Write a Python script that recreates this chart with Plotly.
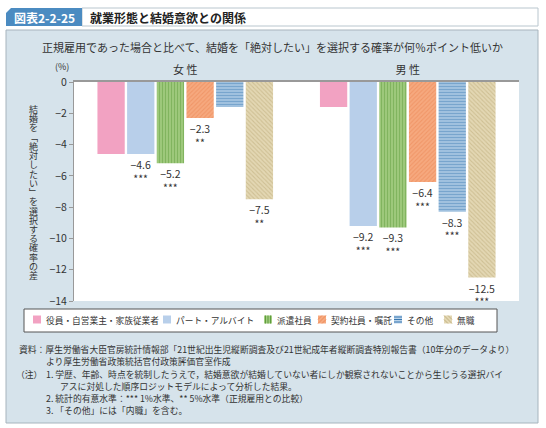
import plotly.graph_objects as go

# ---------------- data ----------------
categories = ["女 性", "男 性"]
series_names = ["役員・自営業主・家族従業者", "パート・アルバイト", "派遣社員",
                "契約社員・嘱託", "その他", "無職"]
women = [-4.6, -4.6, -5.2, -2.3, -1.6, -7.5]
men = [-1.6, -9.2, -9.3, -6.4, -8.3, -12.5]
sig_women = ["", "***", "***", "**", "", "**"]
sig_men = ["", "***", "***", "***", "***", "***"]
y_ticks = [0, -2, -4, -6, -8, -10, -12, -14]

title_tag = "図表2-2-25"
title_text = "就業形態と結婚意欲との関係"
subtitle = "正規雇用であった場合と比べて、結婚を「絶対したい」を選択する確率が何％ポイント低いか"
y_label = "結婚を﹁絶対したい﹂を選択する確率の差"
notes = [
    "資料：厚生労働省大臣官房統計情報部「21世紀出生児縦断調査及び21世紀成年者縦断調査特別報告書（10年分のデータより）",
    "より厚生労働省政策統括官付政策評価官室作成",
    "1. 学歴、年齢、時点を統制したうえで，結婚意欲が結婚していない者にしか観察されないことから生じうる選択バイ",
    "アスに対処した順序ロジットモデルによって分析した結果。",
    "2. 統計的有意水準：*** 1%水準、** 5%水準（正規雇用との比較）",
    "3. 「その他」には「内職」を含む。",
]

# ---------------- styles ----------------
FONT = "Noto Sans CJK JP, Noto Sans, sans-serif"
bg_colors = ["#f2a2c2", "#b8cfea", "#a2cc80", "#f6a97f", "#b9d3ea", "#e3d7b3"]
fg_colors = [None, None, "#5f9c3e", "#eb8350", "#3877b0", "#b9a773"]
shapes_pat = ["", "", "|", "/", "-", "\\"]
solidity = [0, 0, 0.45, 0.35, 0.6, 0.35]
swatch_fill = ["#f2a2c2", "#b8cfea", "#86b964", "#f29a6c", "#6d9fcb", "#d5c698"]

W_FIG, H_FIG = 546, 428
L, T, W, H = 74, 82, 445, 219


def px(x):
    return (x - L) / W


def py(y):
    return (T + H - y) / H


def fmt(v, s):
    return f"−{abs(v)}<br>{s}" if s else ""


def ann(text, x, y, size, color="#333", xanchor="center", **kw):
    return dict(text=text, x=px(x), y=py(y), xref="paper", yref="paper",
                xanchor=xanchor, yanchor="middle", showarrow=False,
                font=dict(size=size, color=color, family=FONT), **kw)


fig = go.Figure()
for i, name in enumerate(series_names):
    pat = dict(shape=shapes_pat[i])
    if shapes_pat[i]:
        pat.update(fgcolor=fg_colors[i], bgcolor=bg_colors[i], size=3,
                   solidity=solidity[i], fillmode="overlay")
    fig.add_trace(go.Bar(
        name=name, x=categories, y=[women[i], men[i]],
        marker=dict(color=bg_colors[i], line=dict(width=0), pattern=pat),
        text=[fmt(women[i], sig_women[i]), fmt(men[i], sig_men[i])],
        textposition="outside", constraintext="none", cliponaxis=False,
        textfont=dict(size=10.5, color="#333", family=FONT),
        showlegend=False, hoverinfo="skip",
    ))

shapes = []
annotations = []

# panel background
shapes.append(dict(type="rect", xref="paper", yref="paper", layer="below",
                   x0=px(6), x1=px(538), y0=py(423), y1=py(30),
                   fillcolor="#d6e3eb", line=dict(color="#a7b4bd", width=1)))
# plot area white
shapes.append(dict(type="rect", xref="paper", yref="paper", layer="below",
                   x0=0, x1=1, y0=0, y1=1, fillcolor="white", line=dict(width=0)))
# title bar
shapes.append(dict(type="rect", xref="paper", yref="paper", layer="below",
                   x0=px(82), x1=px(538), y0=py(26), y1=py(8),
                   fillcolor="white", line=dict(color="#b9c6ce", width=1)))
shapes.append(dict(type="path", xref="paper", yref="paper", layer="below",
                   path=f"M {px(6)},{py(26)} L {px(6)},{py(13)} L {px(11)},{py(8)} "
                        f"L {px(82)},{py(8)} L {px(82)},{py(26)} Z",
                   fillcolor="#4b8bc1", line=dict(width=0)))
annotations.append(ann(f"<b>{title_tag}</b>", 44, 17, 12, color="white"))
annotations.append(ann(f"<b>{title_text}</b>", 88, 17, 12, color="#222", xanchor="left"))
annotations.append(ann(subtitle, 272, 47, 11))
annotations.append(ann("(%)", 62, 67, 9))

# vertical y label: one text element, glyphs sized inside a tight line spacing
vert = "<br>".join(f"<span style='font-size:9px'>{ch}</span>" for ch in y_label)
annotations.append(ann(vert, 33, 192, 7.1))

# legend box
shapes.append(dict(type="rect", xref="paper", yref="paper",
                   x0=px(24), x1=px(497), y0=py(332), y1=py(309),
                   fillcolor="white", line=dict(color="#555", width=1)))
sw_x = [33, 163, 264, 318, 394, 444]
SY0, SY1 = 315.5, 323.5
for i, name in enumerate(series_names):
    x0 = sw_x[i]
    shapes.append(dict(type="rect", xref="paper", yref="paper",
                       x0=px(x0), x1=px(x0 + 8), y0=py(SY1), y1=py(SY0),
                       fillcolor=bg_colors[i] if shapes_pat[i] else swatch_fill[i],
                       line=dict(width=0)))
    if shapes_pat[i] == "|":
        for d in (1.5, 4, 6.5):
            shapes.append(dict(type="line", xref="paper", yref="paper",
                               x0=px(x0 + d), x1=px(x0 + d), y0=py(SY1), y1=py(SY0),
                               line=dict(color=fg_colors[i], width=1)))
    elif shapes_pat[i] == "-":
        for d in (1.5, 4, 6.5):
            shapes.append(dict(type="line", xref="paper", yref="paper",
                               x0=px(x0), x1=px(x0 + 8), y0=py(SY0 + d), y1=py(SY0 + d),
                               line=dict(color=fg_colors[i], width=1)))
    elif shapes_pat[i] in ("/", "\\"):
        for d in (-4, 0, 4):
            if shapes_pat[i] == "/":
                xa, ya, xb, yb = x0 + d, SY1, x0 + d + 8, SY0
            else:
                xa, ya, xb, yb = x0 + d, SY0, x0 + d + 8, SY1
            pts = []
            for t in [j / 20 for j in range(21)]:
                xx = xa + (xb - xa) * t
                yy = ya + (yb - ya) * t
                if x0 <= xx <= x0 + 8:
                    pts.append((xx, yy))
            if len(pts) >= 2:
                shapes.append(dict(type="line", xref="paper", yref="paper",
                                   x0=px(pts[0][0]), y0=py(pts[0][1]),
                                   x1=px(pts[-1][0]), y1=py(pts[-1][1]),
                                   line=dict(color=fg_colors[i], width=0.8)))
    annotations.append(ann(name, x0 + 11, 320, 8.7, xanchor="left"))

# notes
note_pos = [(17, 349), (44, 361), (44, 374), (58, 386), (44, 398), (44, 410)]
for (nx, ny), txt in zip(note_pos, notes):
    annotations.append(ann(txt, nx, ny, 8.8, xanchor="left"))
annotations.append(ann("（注）", 14, 374, 8.8, xanchor="left"))

fig.update_layout(
    width=W_FIG, height=H_FIG,
    margin=dict(l=L, r=W_FIG - L - W, t=T, b=H_FIG - T - H, pad=0),
    paper_bgcolor="white", plot_bgcolor="rgba(0,0,0,0)",
    barmode="group", bargap=0.2, bargroupgap=0.08,
    font=dict(family=FONT, color="#333"),
    shapes=shapes, annotations=annotations,
    xaxis=dict(side="top", showline=True, linecolor="#999", linewidth=1.5,
               ticks="", showgrid=False, zeroline=False,
               tickfont=dict(size=11, color="#333", family=FONT), ticklabelstandoff=2),
    yaxis=dict(range=[-14, 0], tickvals=y_ticks, ticks="outside", ticklen=4,
               tickcolor="#999", showline=True, linecolor="#999", linewidth=1,
               showgrid=False, zeroline=False,
               tickfont=dict(size=10.5, color="#333", family=FONT)),
)

fig.write_html("out.html", config={"displayModeBar": False},
               post_script="document.body.style.margin='0';")
